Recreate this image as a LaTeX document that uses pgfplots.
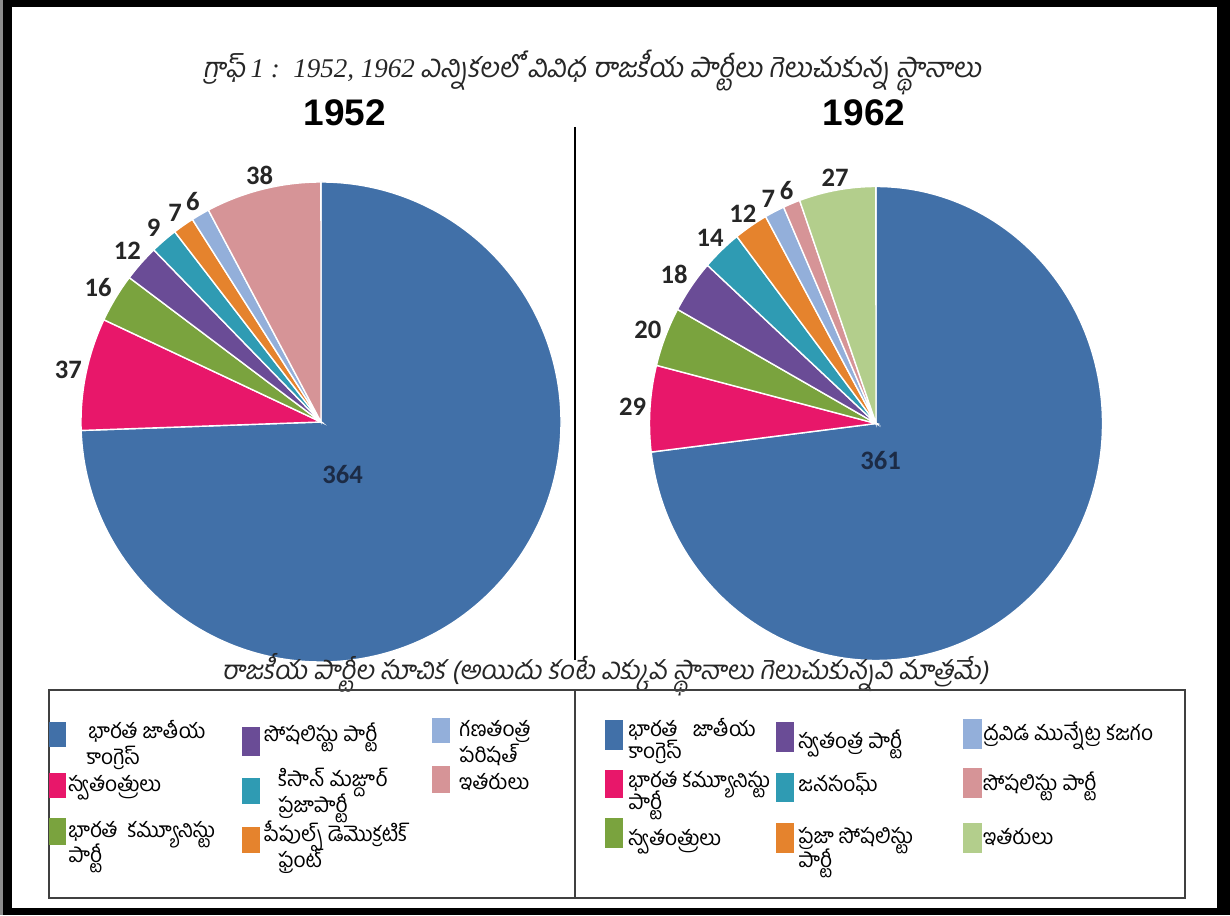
\documentclass[border=0pt]{standalone}
\usepackage{fontspec}
\usepackage{pgfplots}
\pgfplotsset{compat=1.18}
\usepackage{pgfplotstable}
\setmainfont{Liberation Sans}
\newfontfamily\tel[Script=Telugu]{Hind Guntur}
\newfontfamily\telit[Script=Telugu,FakeSlant=0.18]{Hind Guntur}
\newfontfamily\lserif{Liberation Serif}
\newfontfamily\calib{Carlito}

% 1952 colours
\definecolor{A0}{HTML}{4170A8}
\definecolor{A1}{HTML}{E8176A}
\definecolor{A2}{HTML}{7AA33E}
\definecolor{A3}{HTML}{6A4C96}
\definecolor{A4}{HTML}{2F9BB3}
\definecolor{A5}{HTML}{E5832D}
\definecolor{A6}{HTML}{93AFDA}
\definecolor{A7}{HTML}{D69497}
% 1962 colours
\definecolor{B0}{HTML}{4170A8}
\definecolor{B1}{HTML}{E8176A}
\definecolor{B2}{HTML}{7AA33E}
\definecolor{B3}{HTML}{6A4C96}
\definecolor{B4}{HTML}{2F9BB3}
\definecolor{B5}{HTML}{E5832D}
\definecolor{B6}{HTML}{93AFDA}
\definecolor{B7}{HTML}{D69497}
\definecolor{B8}{HTML}{B3CE8C}
\definecolor{lblnavy}{HTML}{1C2B45}

\pgfplotstableread{
party seats
INC 364
IND 37
CPI 16
SP 12
KMPP 9
PDF 7
GP 6
OTH 38
}\tblA

\pgfplotstableread{
party seats
INC 361
CPI 29
IND 20
SWA 18
BJS 14
PSP 12
DMK 7
SOC 6
OTH 27
}\tblB

\newcommand\prepie[3]{%
  \def\tot{0}%
  \pgfplotsforeachungrouped \i in {0,...,#3}{%
    \pgfplotstablegetelem{\i}{seats}\of{#1}%
    \pgfmathsetmacro\tot{\tot+\pgfplotsretval}%
  }%
  \def\ang{90}%
  \pgfplotsforeachungrouped \i in {0,...,#3}{%
    \pgfplotstablegetelem{\i}{seats}\of{#1}%
    \let\segval\pgfplotsretval
    \pgfmathsetmacro\frac{\segval/\tot}%
    \pgfmathsetmacro\nang{\ang-360*\frac}%
    \pgfmathsetmacro\midang{(\ang+\nang)/2}%
    \pgfmathsetmacro\tmpa{cos(\ang)}\expandafter\xdef\csname #2xs\i\endcsname{\tmpa}%
    \pgfmathsetmacro\tmpa{sin(\ang)}\expandafter\xdef\csname #2ys\i\endcsname{\tmpa}%
    \pgfmathsetmacro\tmpa{1.005*cos(\midang)}\expandafter\xdef\csname #2xm\i\endcsname{\tmpa}%
    \pgfmathsetmacro\tmpa{1.005*sin(\midang)}\expandafter\xdef\csname #2ym\i\endcsname{\tmpa}%
    \pgfmathtruncatemacro\tmpa{mod(\midang+540,360)}\expandafter\xdef\csname #2an\i\endcsname{\tmpa}%
    \expandafter\xdef\csname #2s\i\endcsname{\ang}%
    \expandafter\xdef\csname #2e\i\endcsname{\nang}%
    \expandafter\xdef\csname #2v\i\endcsname{\segval}%
    \let\ang\nang
  }%
}
\prepie{\tblA}{A}{7}
\prepie{\tblB}{B}{8}

\newcommand\lt[3]{\node[lgtext] at (#1,{908-#2}) {#3};}
\newcommand\sw[5]{\fill[#5] (#1,{915-#2}) rectangle (#3,{915-#4});}

\begin{document}
\begin{tikzpicture}[x=0.5pt,y=0.5pt,
  lgtext/.style={anchor=base west,inner sep=0pt,font=\tel\fontsize{10.5}{12}\selectfont,text=black},
  lbl/.style={inner sep=1.2pt,font=\calib\bfseries\fontsize{13.3}{14}\selectfont,text=black!85}]
\useasboundingbox (0,0) rectangle (1230,915);
\fill[black] (0,0) rectangle (1230,915);
\fill[black!45] (0,0) rectangle (3,915);
\fill[white] (12,7) rectangle (1217,908);

% title
\node[text=black!85] at (592,843) {{\telit\fontsize{13.7}{15}\selectfont గ్రాఫ్} {\lserif\itshape\fontsize{13.5}{15}\selectfont 1 :\ \ 1952, 1962} {\telit\fontsize{13.7}{15}\selectfont ఎన్నికలలో వివిధ రాజకీయ పార్టీలు గెలుచుకున్న స్థానాలు}};
\node[font=\bfseries\fontsize{18.5}{20}\selectfont] at (345,802) {1952};
\node[font=\bfseries\fontsize{18.5}{20}\selectfont] at (864,802) {1962};
\draw[line width=0.8pt] (575,788) -- (575,255);

% 1952 pie
\begin{axis}[at={(160.5pt,246.5pt)},anchor=center,scale only axis,width=240pt,height=240pt,
  xmin=-1,xmax=1,ymin=-1,ymax=1,hide axis,clip=false]
\addplot[draw=none] coordinates {(0,0)};
\pgfplotsinvokeforeach{0,...,7}{%
  \edef\pietmp{\noexpand\fill[A#1,draw=white,line width=0.7pt] (axis cs:0,0) -- (axis cs:\csname Axs#1\endcsname,\csname Ays#1\endcsname) arc[start angle=\csname As#1\endcsname,end angle=\csname Ae#1\endcsname,x radius=120pt,y radius=120pt] -- cycle;}\pietmp
}
\pgfplotsinvokeforeach{1,...,7}{%
  \edef\pietmp{\noexpand\node[lbl,anchor=\csname Aan#1\endcsname] at (axis cs:\csname Axm#1\endcsname,\csname Aym#1\endcsname) {\csname Av#1\endcsname};}\pietmp
}
\node[font=\calib\bfseries\fontsize{13.3}{14}\selectfont,text=lblnavy] at (axis cs:0.09,-0.22) {\csname Av0\endcsname};
\end{axis}

% 1962 pie
\begin{axis}[at={(438pt,245.75pt)},anchor=center,scale only axis,width=226.5pt,height=237pt,
  xmin=-1,xmax=1,ymin=-1,ymax=1,hide axis,clip=false]
\addplot[draw=none] coordinates {(0,0)};
\pgfplotsinvokeforeach{0,...,8}{%
  \edef\pietmp{\noexpand\fill[B#1,draw=white,line width=0.7pt] (axis cs:0,0) -- (axis cs:\csname Bxs#1\endcsname,\csname Bys#1\endcsname) arc[start angle=\csname Bs#1\endcsname,end angle=\csname Be#1\endcsname,x radius=113.25pt,y radius=118.5pt] -- cycle;}\pietmp
}
\pgfplotsinvokeforeach{1,...,8}{%
  \edef\pietmp{\noexpand\node[lbl,anchor=\csname Ban#1\endcsname] at (axis cs:\csname Bxm#1\endcsname,\csname Bym#1\endcsname) {\csname Bv#1\endcsname};}\pietmp
}
\node[font=\calib\bfseries\fontsize{13.3}{14}\selectfont,text=lblnavy] at (axis cs:0.02,-0.155) {\csname Bv0\endcsname};
\end{axis}

% legend heading
\node[text=black!85] at (605,240) {\telit\fontsize{13}{14}\selectfont రాజకీయ పార్టీల సూచిక (అయిదు కంటే ఎక్కువ స్థానాలు గెలుచుకున్నవి మాత్రమే)};
\draw[line width=0.9pt,black!75] (49,225) rectangle (1185,17);
\draw[line width=0.9pt,black!75] (575,225) -- (575,17);

% 1952 legend
\sw{49}{722}{66}{747}{A0}
\sw{49}{773}{66}{798}{A1}
\sw{49}{818}{66}{845}{A2}
\sw{242}{727}{260}{756}{A3}
\sw{242}{778}{260}{804}{A4}
\sw{242}{827}{260}{853}{A5}
\sw{432}{718}{450}{743}{A6}
\sw{432}{766}{450}{793}{A7}
\lt{88}{732}{భారత జాతీయ}
\lt{86}{758}{కాంగ్రెస్}
\lt{68}{784}{స్వతంత్రులు}
\lt{68}{830}{భారత \ కమ్యూనిస్టు}
\lt{68}{855}{పార్టీ}
\lt{264}{735}{సోషలిస్టు పార్టీ}
\lt{278}{780}{కిసాన్ మజ్దూర్}
\lt{278}{805}{ప్రజాపార్టీ}
\lt{264}{834}{పీపుల్స్ డెమొక్రటిక్}
\lt{278}{860}{ఫ్రంట్}
\lt{459}{730}{గణతంత్ర}
\lt{459}{756}{పరిషత్}
\lt{459}{782}{ఇతరులు}

% 1962 legend
\sw{605}{720}{623}{750}{B0}
\sw{605}{770}{623}{798}{B1}
\sw{605}{818}{623}{848}{B2}
\sw{776}{722}{794}{752}{B3}
\sw{776}{773}{794}{802}{B4}
\sw{776}{823}{794}{853}{B5}
\sw{963}{719}{982}{749}{B6}
\sw{963}{768}{982}{798}{B7}
\sw{963}{823}{982}{853}{B8}
\lt{628}{730}{భారత \ \ జాతీయ}
\lt{628}{752}{కాంగ్రెస్}
\lt{628}{781}{భారత కమ్యూనిస్టు}
\lt{628}{803}{పార్టీ}
\lt{628}{838}{స్వతంత్రులు}
\lt{798}{742}{స్వతంత్ర పార్టీ}
\lt{798}{785}{జనసంఘ్}
\lt{798}{836}{ప్రజా సోషలిస్టు}
\lt{798}{860}{పార్టీ}
\lt{983}{734}{ద్రవిడ మున్నేట్ర కజగం}
\lt{983}{783}{సోషలిస్టు పార్టీ}
\lt{983}{837}{ఇతరులు}
\end{tikzpicture}
\end{document}
